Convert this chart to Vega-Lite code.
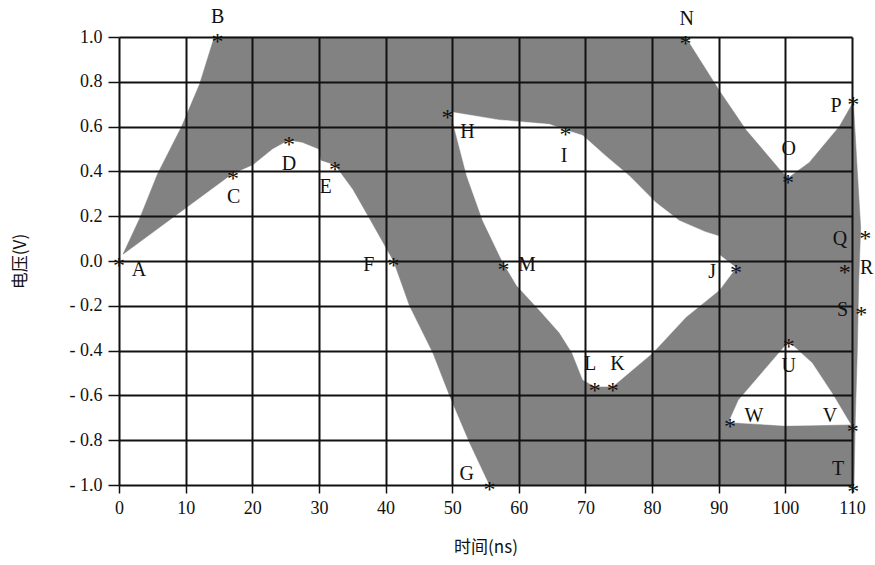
{
  "$schema": "https://vega.github.io/schema/vega-lite/v6.json",
  "autosize": "none",
  "width": 733,
  "height": 448,
  "padding": {"left": 119, "top": 37, "right": 23, "bottom": 80},
  "background": "white",
  "config": {
    "view": {"stroke": null},
    "axis": {
      "grid": true,
      "gridColor": "#111111",
      "gridWidth": 2,
      "gridOpacity": 1,
      "domain": false,
      "tickColor": "#111111",
      "tickWidth": 1.5,
      "labelFont": "Liberation Serif",
      "labelFontSize": 18,
      "labelColor": "#111111",
      "titleFont": "Noto Sans CJK SC",
      "titleFontSize": 17,
      "titleFontWeight": "normal",
      "titleColor": "#111111"
    }
  },
  "datasets": {
    "outer": [
      {"i": 1, "x": 0.6, "y": 0.03},
      {"i": 2, "x": 3.1, "y": 0.19},
      {"i": 3, "x": 5.8, "y": 0.39},
      {"i": 4, "x": 9.4, "y": 0.6},
      {"i": 5, "x": 12.1, "y": 0.79},
      {"i": 6, "x": 14.3, "y": 1.0},
      {"i": 7, "x": 85.0, "y": 1.0},
      {"i": 8, "x": 90.1, "y": 0.76},
      {"i": 9, "x": 94.1, "y": 0.585},
      {"i": 10, "x": 99.1, "y": 0.41},
      {"i": 11, "x": 100.4, "y": 0.37},
      {"i": 12, "x": 103.6, "y": 0.44},
      {"i": 13, "x": 108.1, "y": 0.6},
      {"i": 14, "x": 110.2, "y": 0.71},
      {"i": 15, "x": 110.8, "y": 0.4},
      {"i": 16, "x": 111.3, "y": 0.15},
      {"i": 17, "x": 111.0, "y": -0.1},
      {"i": 18, "x": 110.8, "y": -0.4},
      {"i": 19, "x": 110.5, "y": -0.7},
      {"i": 20, "x": 110.3, "y": -1.0},
      {"i": 21, "x": 55.6, "y": -1.0},
      {"i": 22, "x": 52.6, "y": -0.81},
      {"i": 23, "x": 49.6, "y": -0.6},
      {"i": 24, "x": 47.1, "y": -0.41},
      {"i": 25, "x": 43.6, "y": -0.2},
      {"i": 26, "x": 41.2, "y": 0.0},
      {"i": 27, "x": 37.6, "y": 0.19},
      {"i": 28, "x": 35.1, "y": 0.32},
      {"i": 29, "x": 32.4, "y": 0.43},
      {"i": 30, "x": 30.3, "y": 0.45},
      {"i": 31, "x": 30.0, "y": 0.5},
      {"i": 32, "x": 27.5, "y": 0.53},
      {"i": 33, "x": 25.4, "y": 0.54},
      {"i": 34, "x": 23.0, "y": 0.5},
      {"i": 35, "x": 20.1, "y": 0.43},
      {"i": 36, "x": 17.0, "y": 0.39}
    ],
    "holes": [
      {"poly": "mid", "i": 1, "x": 49.8, "y": 0.665},
      {"poly": "mid", "i": 2, "x": 57.0, "y": 0.63},
      {"poly": "mid", "i": 3, "x": 64.6, "y": 0.61},
      {"poly": "mid", "i": 4, "x": 67.0, "y": 0.585},
      {"poly": "mid", "i": 5, "x": 69.6, "y": 0.56},
      {"poly": "mid", "i": 6, "x": 73.0, "y": 0.47},
      {"poly": "mid", "i": 7, "x": 76.6, "y": 0.38},
      {"poly": "mid", "i": 8, "x": 80.6, "y": 0.26},
      {"poly": "mid", "i": 9, "x": 84.1, "y": 0.18},
      {"poly": "mid", "i": 10, "x": 88.0, "y": 0.13},
      {"poly": "mid", "i": 11, "x": 90.1, "y": 0.11},
      {"poly": "mid", "i": 12, "x": 90.0, "y": 0.03},
      {"poly": "mid", "i": 13, "x": 92.6, "y": -0.03},
      {"poly": "mid", "i": 14, "x": 90.1, "y": -0.13},
      {"poly": "mid", "i": 15, "x": 85.1, "y": -0.25},
      {"poly": "mid", "i": 16, "x": 80.1, "y": -0.41},
      {"poly": "mid", "i": 17, "x": 74.1, "y": -0.56},
      {"poly": "mid", "i": 18, "x": 71.4, "y": -0.56},
      {"poly": "mid", "i": 19, "x": 69.6, "y": -0.53},
      {"poly": "mid", "i": 20, "x": 68.0, "y": -0.41},
      {"poly": "mid", "i": 21, "x": 66.1, "y": -0.32},
      {"poly": "mid", "i": 22, "x": 63.1, "y": -0.22},
      {"poly": "mid", "i": 23, "x": 59.7, "y": -0.11},
      {"poly": "mid", "i": 24, "x": 57.5, "y": 0.0},
      {"poly": "mid", "i": 25, "x": 54.6, "y": 0.18},
      {"poly": "mid", "i": 26, "x": 52.2, "y": 0.38},
      {"poly": "mid", "i": 27, "x": 50.1, "y": 0.62},
      {"poly": "tri", "i": 1, "x": 100.5, "y": -0.36},
      {"poly": "tri", "i": 2, "x": 104.0, "y": -0.455},
      {"poly": "tri", "i": 3, "x": 107.0, "y": -0.59},
      {"poly": "tri", "i": 4, "x": 109.8, "y": -0.73},
      {"poly": "tri", "i": 5, "x": 100.0, "y": -0.735},
      {"poly": "tri", "i": 6, "x": 91.5, "y": -0.72},
      {"poly": "tri", "i": 7, "x": 93.0, "y": -0.62},
      {"poly": "tri", "i": 8, "x": 95.6, "y": -0.53}
    ],
    "pts": [
      {"name": "A", "x": 0.0, "y": 0.0, "lx": 3.0, "ly": -0.04},
      {"name": "B", "x": 14.8, "y": 1.0, "lx": 14.8, "ly": 1.09},
      {"name": "C", "x": 17.1, "y": 0.39, "lx": 17.2, "ly": 0.285},
      {"name": "D", "x": 25.5, "y": 0.54, "lx": 25.5, "ly": 0.435},
      {"name": "E", "x": 32.4, "y": 0.43, "lx": 31.0, "ly": 0.33},
      {"name": "F", "x": 41.2, "y": 0.0, "lx": 37.5, "ly": -0.02},
      {"name": "G", "x": 55.6, "y": -1.0, "lx": 52.2, "ly": -0.95},
      {"name": "H", "x": 49.3, "y": 0.66, "lx": 52.3, "ly": 0.575},
      {"name": "I", "x": 67.0, "y": 0.585, "lx": 66.8, "ly": 0.47},
      {"name": "J", "x": 92.6, "y": -0.03, "lx": 89.0, "ly": -0.05},
      {"name": "K", "x": 74.1, "y": -0.56, "lx": 74.8, "ly": -0.46},
      {"name": "L", "x": 71.4, "y": -0.56, "lx": 70.7, "ly": -0.46},
      {"name": "M", "x": 57.7, "y": -0.02, "lx": 61.2, "ly": -0.02},
      {"name": "N", "x": 85.0, "y": 0.99, "lx": 85.2, "ly": 1.08},
      {"name": "O", "x": 100.4, "y": 0.37, "lx": 100.5, "ly": 0.5},
      {"name": "P", "x": 110.2, "y": 0.72, "lx": 107.6, "ly": 0.69},
      {"name": "Q", "x": 112.0, "y": 0.12, "lx": 108.2, "ly": 0.1},
      {"name": "R", "x": 108.9, "y": -0.03, "lx": 112.2, "ly": -0.03},
      {"name": "S", "x": 111.4, "y": -0.22, "lx": 108.6, "ly": -0.22},
      {"name": "T", "x": 110.2, "y": -1.01, "lx": 107.9, "ly": -0.93},
      {"name": "U", "x": 100.5, "y": -0.36, "lx": 100.5, "ly": -0.47},
      {"name": "V", "x": 110.1, "y": -0.74, "lx": 106.7, "ly": -0.69},
      {"name": "W", "x": 91.7, "y": -0.72, "lx": 95.3, "ly": -0.69}
    ]
  },
  "layer": [
    {
      "data": {"name": "outer"},
      "mark": {"type": "line", "interpolate": "linear-closed", "fill": "#828282", "stroke": "#828282", "strokeWidth": 0.5},
      "encoding": {
        "x": {"field": "x", "type": "quantitative", "scale": {"domain": [0, 110], "nice": false, "zero": false},
          "axis": {"zindex": 2, "values": [0, 10, 20, 30, 40, 50, 60, 70, 80, 90, 100, 110], "title": "时间(ns)", "tickSize": 8, "labelPadding": 6, "titlePadding": 22, "labelFlush": false}},
        "y": {"field": "y", "type": "quantitative", "scale": {"domain": [-1, 1], "nice": false, "zero": false},
          "axis": {"zindex": 2, "values": [-1, -0.8, -0.6, -0.4, -0.2, 0, 0.2, 0.4, 0.6, 0.8, 1], "title": "电压(V)", "tickSize": 11, "labelPadding": 6, "titlePadding": 40, "labelFlush": false,
            "labelExpr": "datum.value < 0 ? '- ' + format(-datum.value, '.1f') : format(datum.value, '.1f')"}},
        "order": {"field": "i", "type": "quantitative"}
      }
    },
    {
      "data": {"name": "holes"},
      "mark": {"type": "line", "interpolate": "linear-closed", "fill": "white", "stroke": "white", "strokeWidth": 0.5},
      "encoding": {
        "x": {"field": "x", "type": "quantitative"},
        "y": {"field": "y", "type": "quantitative"},
        "detail": {"field": "poly", "type": "nominal"},
        "order": {"field": "i", "type": "quantitative"}
      }
    },
    {
      "data": {"name": "pts"},
      "mark": {"type": "text", "text": "*", "font": "Liberation Serif", "fontSize": 24, "baseline": "middle", "dy": 5, "color": "#111111"},
      "encoding": {
        "x": {"field": "x", "type": "quantitative"},
        "y": {"field": "y", "type": "quantitative"}
      }
    },
    {
      "data": {"name": "pts"},
      "mark": {"type": "text", "font": "Liberation Serif", "fontSize": 20, "baseline": "middle", "color": "#111111"},
      "encoding": {
        "x": {"field": "lx", "type": "quantitative"},
        "y": {"field": "ly", "type": "quantitative"},
        "text": {"field": "name"}
      }
    }
  ]
}
